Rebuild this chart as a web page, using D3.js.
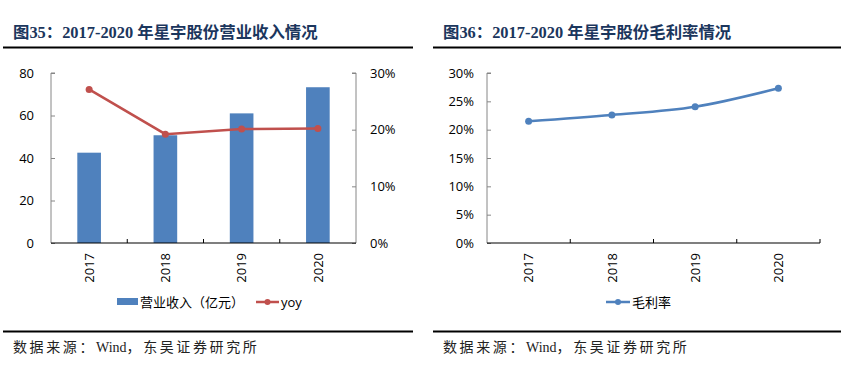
<!DOCTYPE html>
<html>
<head>
<meta charset="utf-8">
<script src="https://cdn.jsdelivr.net/npm/d3@7/dist/d3.min.js"></script>
<style>
  body { margin: 0; background: #fff; }
  svg text { font-family: "Open Sans", "Noto Sans CJK SC", sans-serif; }
  .title { font-family: "Liberation Serif", "Noto Sans CJK SC", serif !important; font-weight: bold; fill: #1B365D; }
  .source { font-family: "Liberation Serif", "Noto Sans CJK SC", serif !important; fill: #222; }
</style>
</head>
<body>
<svg id="chart"></svg>
<script>
var width = 866, height = 377;

var years = ["2017", "2018", "2019", "2020"];
var revenue = [42.5, 50.7, 61.0, 73.3];      // 营业收入（亿元）
var yoy = [0.271, 0.192, 0.201, 0.202];
var grossMargin = [0.215, 0.226, 0.2405, 0.273];

var leftTicks = [0, 20, 40, 60, 80];
var rightTicks = [0, 0.1, 0.2, 0.3];
var marginTicks = [0, 0.05, 0.1, 0.15, 0.2, 0.25, 0.3];

var barColor = "#4F81BD";
var lineColor = "#C0504D";
var axisGray = "#868686";

var svg = d3.select("#chart")
    .attr("width", width)
    .attr("height", height);

// header & footer for each panel
function drawFrame(x0, x1, title) {
    svg.append("text")
        .attr("class", "title")
        .attr("x", x0 + 10)
        .attr("y", 38)
        .style("font-size", "16.4px")
        .text(title);
    svg.append("line")
        .attr("x1", x0).attr("x2", x1)
        .attr("y1", 47.5).attr("y2", 47.5)
        .attr("stroke", "#000").attr("stroke-width", 2);
    svg.append("line")
        .attr("x1", x0).attr("x2", x1)
        .attr("y1", 331.5).attr("y2", 331.5)
        .attr("stroke", "#000").attr("stroke-width", 2);
    var src = svg.append("text")
        .attr("class", "source")
        .attr("x", x0 + 10)
        .attr("y", 352)
        .style("font-size", "14px");
    src.append("tspan").style("letter-spacing", "2.6px").text("数据来源：");
    src.append("tspan").text("Wind");
    src.append("tspan").style("letter-spacing", "2.6px").text("，东吴证券研究所");
}

drawFrame(3, 413, "图35：2017-2020 年星宇股份营业收入情况");
drawFrame(433, 841, "图36：2017-2020 年星宇股份毛利率情况");

// ---------- chart 35: bars + yoy line ----------
var x1 = d3.scaleBand().domain(years).range([51, 356]).paddingInner(0.69).paddingOuter(0.345);
var xc1 = d3.scalePoint().domain(years).range([51, 356]).padding(0.5);
var yLeft = d3.scaleLinear().domain([0, 80]).range([243, 73]);
var yRight = d3.scaleLinear().domain([0, 0.3]).range([243, 73]);

var g1 = svg.append("g");

g1.selectAll("rect.bar")
    .data(revenue)
    .enter().append("rect")
    .attr("class", "bar")
    .attr("x", function(d, i) { return x1(years[i]); })
    .attr("width", x1.bandwidth())
    .attr("y", function(d) { return yLeft(d); })
    .attr("height", function(d) { return yLeft(0) - yLeft(d); })
    .attr("fill", barColor);

var leftAxis = g1.append("g")
    .attr("transform", "translate(51,0)")
    .call(d3.axisRight(yLeft).tickValues(leftTicks).tickSize(4).tickFormat(""));
leftAxis.selectAll("line, path").attr("stroke", axisGray);
leftAxis.select(".domain").attr("d", "M0,243V73h4");

g1.selectAll("text.ly")
    .data(leftTicks)
    .enter().append("text")
    .attr("class", "ly")
    .attr("x", 34)
    .attr("y", function(d) { return yLeft(d); })
    .attr("dy", "0.36em")
    .attr("text-anchor", "end")
    .style("font-size", "13px")
    .text(function(d) { return d; });

var rightAxis = g1.append("g")
    .attr("transform", "translate(356,0)")
    .call(d3.axisLeft(yRight).tickValues(rightTicks).tickSize(4).tickFormat(""));
rightAxis.selectAll("line, path").attr("stroke", axisGray);
rightAxis.select(".domain").attr("d", "M0,243V73h-4");

g1.selectAll("text.ry")
    .data(rightTicks)
    .enter().append("text")
    .attr("class", "ry")
    .attr("x", 370)
    .attr("y", function(d) { return yRight(d); })
    .attr("dy", "0.36em")
    .style("font-size", "13px")
    .text(function(d) { return d3.format(".0%")(d); });

var bottom1 = g1.append("g")
    .attr("transform", "translate(0,243)")
    .call(d3.axisTop(x1).tickSize(0).tickFormat(""));
bottom1.select(".domain").attr("d", "M51,0H356").attr("stroke", "#000").attr("stroke-width", 1.2);

// boundary ticks between categories
g1.selectAll("line.xt")
    .data([1, 2, 3])
    .enter().append("line")
    .attr("class", "xt")
    .attr("x1", function(i) { return x1.step() * i + 51; })
    .attr("x2", function(i) { return x1.step() * i + 51; })
    .attr("y1", 243).attr("y2", 239)
    .attr("stroke", "#000");

g1.selectAll("text.xl")
    .data(years)
    .enter().append("text")
    .attr("class", "xl")
    .attr("transform", function(d) { return "translate(" + xc1(d) + ",253) rotate(-90)"; })
    .attr("text-anchor", "end")
    .attr("dy", "0.36em")
    .style("font-size", "13px")
    .text(function(d) { return d; });

var yoyLine = d3.line()
    .x(function(d, i) { return xc1(years[i]); })
    .y(function(d) { return yRight(d); });

g1.append("path")
    .datum(yoy)
    .attr("d", yoyLine)
    .attr("fill", "none")
    .attr("stroke", lineColor)
    .attr("stroke-width", 2.5);

g1.selectAll("circle.yoy")
    .data(yoy)
    .enter().append("circle")
    .attr("class", "yoy")
    .attr("cx", function(d, i) { return xc1(years[i]); })
    .attr("cy", function(d) { return yRight(d); })
    .attr("r", 3.5)
    .attr("fill", lineColor);

// legend
g1.append("rect")
    .attr("x", 117).attr("y", 298)
    .attr("width", 21).attr("height", 7)
    .attr("fill", barColor);
g1.append("text")
    .attr("x", 140).attr("y", 302)
    .attr("dy", "0.36em")
    .style("font-size", "13px")
    .text("营业收入（亿元）");
g1.append("line")
    .attr("x1", 256).attr("x2", 279)
    .attr("y1", 302).attr("y2", 302)
    .attr("stroke", lineColor).attr("stroke-width", 2.5);
g1.append("circle")
    .attr("cx", 267.5).attr("cy", 302).attr("r", 3)
    .attr("fill", lineColor);
g1.append("text")
    .attr("x", 281).attr("y", 302)
    .attr("dy", "0.36em")
    .style("font-size", "13px")
    .text("yoy");

// ---------- chart 36: gross margin line ----------
var x2 = d3.scaleBand().domain(years).range([487, 820]);
var xc2 = d3.scalePoint().domain(years).range([487, 820]).padding(0.5);
var y2 = d3.scaleLinear().domain([0, 0.3]).range([243, 73]);

var g2 = svg.append("g");

var axis2 = g2.append("g")
    .attr("transform", "translate(487,0)")
    .call(d3.axisRight(y2).tickValues(marginTicks).tickSize(4).tickFormat(""));
axis2.selectAll("line, path").attr("stroke", axisGray);
axis2.select(".domain").attr("d", "M0,243V73h4");

g2.selectAll("text.my")
    .data(marginTicks)
    .enter().append("text")
    .attr("class", "my")
    .attr("x", 474)
    .attr("y", function(d) { return y2(d); })
    .attr("dy", "0.36em")
    .attr("text-anchor", "end")
    .style("font-size", "13px")
    .text(function(d) { return d3.format(".0%")(d); });

var bottom2 = g2.append("g")
    .attr("transform", "translate(0,243)")
    .call(d3.axisTop(x2).tickSize(0).tickFormat(""));
bottom2.select(".domain").attr("d", "M487,0H820").attr("stroke", "#000").attr("stroke-width", 1.2);

g2.selectAll("line.xt")
    .data([1, 2, 3, 4])
    .enter().append("line")
    .attr("class", "xt")
    .attr("x1", function(i) { return x2.step() * i + 487; })
    .attr("x2", function(i) { return x2.step() * i + 487; })
    .attr("y1", 243).attr("y2", 239)
    .attr("stroke", "#000");

g2.selectAll("text.xl")
    .data(years)
    .enter().append("text")
    .attr("class", "xl")
    .attr("transform", function(d) { return "translate(" + xc2(d) + ",253) rotate(-90)"; })
    .attr("text-anchor", "end")
    .attr("dy", "0.36em")
    .style("font-size", "13px")
    .text(function(d) { return d; });

var marginLine = d3.line()
    .x(function(d, i) { return xc2(years[i]); })
    .y(function(d) { return y2(d); })
    .curve(d3.curveMonotoneX);

g2.append("path")
    .datum(grossMargin)
    .attr("d", marginLine)
    .attr("fill", "none")
    .attr("stroke", barColor)
    .attr("stroke-width", 2.5);

g2.selectAll("circle.gm")
    .data(grossMargin)
    .enter().append("circle")
    .attr("class", "gm")
    .attr("cx", function(d, i) { return xc2(years[i]); })
    .attr("cy", function(d) { return y2(d); })
    .attr("r", 3.5)
    .attr("fill", barColor);

g2.append("line")
    .attr("x1", 606).attr("x2", 630)
    .attr("y1", 302).attr("y2", 302)
    .attr("stroke", barColor).attr("stroke-width", 2.5);
g2.append("circle")
    .attr("cx", 618).attr("cy", 302).attr("r", 3)
    .attr("fill", barColor);
g2.append("text")
    .attr("x", 632).attr("y", 302)
    .attr("dy", "0.36em")
    .style("font-size", "13px")
    .text("毛利率");
</script>
</body>
</html>
